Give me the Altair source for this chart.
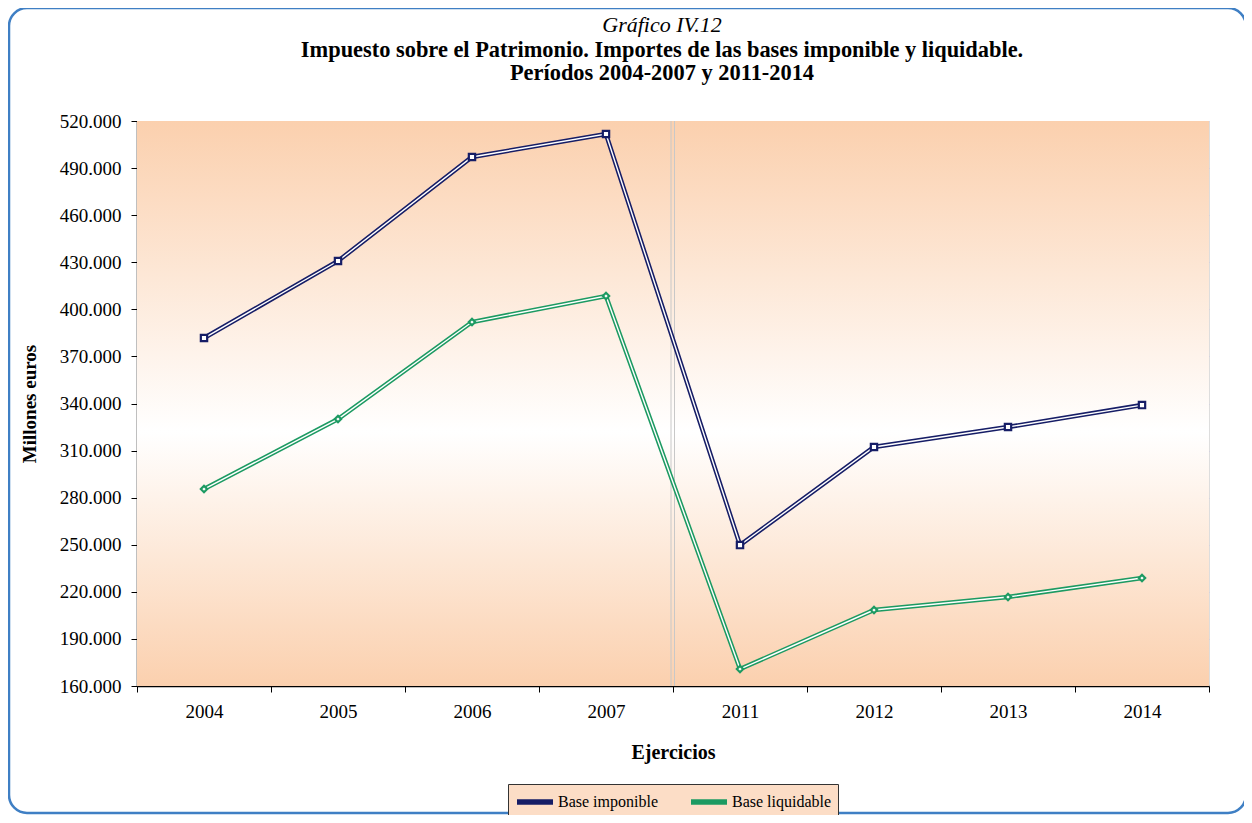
import altair as alt
import pandas as pd

years = ["2004", "2005", "2006", "2007", "2011", "2012", "2013", "2014"]
base_imponible = [381700, 430800, 497100, 511700, 249800, 312300, 325000, 339000]
base_liquidable = [285500, 330100, 391900, 408500, 170800, 208400, 216700, 228800]
series_names = ["Base imponible", "Base liquidable"]
series_colors = ["#161D66", "#1C9A62"]
series_shapes = ["square", "diamond"]
title_lines = ["Gráfico IV.12",
               "Impuesto sobre el Patrimonio. Importes de las bases imponible y liquidable.",
               "Períodos 2004-2007 y 2011-2014"]

rows = []
for y, v in zip(years, base_imponible):
    rows.append({"Ejercicio": y, "valor": v, "serie": series_names[0]})
for y, v in zip(years, base_liquidable):
    rows.append({"Ejercicio": y, "valor": v, "serie": series_names[1]})
df = pd.DataFrame(rows)

W, H = 1072, 565
FONT = "Liberation Serif"

xenc = alt.X("Ejercicio:N", sort=years, title="Ejercicios",
             scale=alt.Scale(paddingInner=0, paddingOuter=0),
             axis=alt.Axis(labelAngle=0, labelFont=FONT, labelFontSize=19, labelColor="black",
                           titleFont=FONT, titleFontSize=20, titleFontWeight="bold", titleColor="black",
                           titlePadding=21, labelPadding=10, tickBand="extent", tickSize=6,
                           tickColor="black", domainColor="black", domainWidth=1.5, grid=False))
yenc = alt.Y("valor:Q", title="Millones euros",
             scale=alt.Scale(domain=[160000, 520000], nice=False),
             axis=alt.Axis(values=list(range(160000, 520001, 30000)), format=",d",
                           labelFont=FONT, labelFontSize=19, labelColor="black",
                           titleFont=FONT, titleFontSize=19, titleFontWeight="bold", titleColor="black",
                           titlePadding=20, labelPadding=10, tickSize=6, tickColor="black",
                           domainColor="black", domainWidth=1.5,
                           grid=True, gridColor="#CBC8E4", gridWidth=1.2))
colorenc = alt.Color("serie:N", scale=alt.Scale(domain=series_names, range=series_colors),
                     legend=alt.Legend(title=None, orient="none", direction="horizontal",
                                       legendX=371, legendY=663, labelFont=FONT, labelFontSize=16,
                                       labelColor="black", symbolType="M-1,0H3", symbolStrokeWidth=5.5,
                                       symbolSize=324, fillColor="#FCDDC6", strokeColor="#333333",
                                       padding=6, columnPadding=22, labelOffset=20, labelLimit=200))

gradient = alt.LinearGradient(
    gradient="linear", x1=0, y1=0, x2=0, y2=1,
    stops=[alt.GradientStop(offset=0, color="#FBD0AE"),
           alt.GradientStop(offset=0.55, color="#FFFFFF"),
           alt.GradientStop(offset=1, color="#FBD0AE")])

one = alt.Data(values=[{}])

bg = alt.Chart(one).mark_rect(fill=gradient).encode(
    x=alt.value(0), x2=alt.value(W), y=alt.value(0), y2=alt.value(H))

frame = alt.Chart(one).mark_rect(
    fill=None, stroke="#3F7FC4", strokeWidth=2.5, cornerRadius=18).encode(
    x=alt.value(-128), x2=alt.value(1109), y=alt.value(-113), y2=alt.value(692))

sep1 = alt.Chart(one).mark_rule(color="#C8C8C8", strokeWidth=1).encode(
    x=alt.value(534), y=alt.value(0), y2=alt.value(H))
sep2 = alt.Chart(one).mark_rule(color="#C8C8C8", strokeWidth=1).encode(
    x=alt.value(537.5), y=alt.value(0), y2=alt.value(H))

t1 = alt.Chart(one).mark_text(font=FONT, fontSize=22, fontStyle="italic", color="black",
                              baseline="middle", align="center").encode(
    x=alt.value(W / 2 - 11), y=alt.value(-96), text=alt.value(title_lines[0]))
t2 = alt.Chart(one).mark_text(font=FONT, fontSize=22.4, fontWeight="bold", color="black",
                              baseline="middle", align="center").encode(
    x=alt.value(W / 2 - 11), y=alt.value(-71), text=alt.value(title_lines[1]))
t3 = alt.Chart(one).mark_text(font=FONT, fontSize=22.4, fontWeight="bold", color="black",
                              baseline="middle", align="center").encode(
    x=alt.value(W / 2 - 11), y=alt.value(-48), text=alt.value(title_lines[2]))

base = alt.Chart(df)
outer = base.mark_line(strokeWidth=4.5).encode(x=xenc, y=yenc, color=colorenc, detail="serie:N")
inner = base.mark_line(strokeWidth=1.4, color="white").encode(x=xenc, y=yenc, detail="serie:N")

pt_layers = []
for name, col, shp in zip(series_names, series_colors, series_shapes):
    pt_layers.append(
        base.transform_filter(alt.datum.serie == name).mark_point(
            filled=False, fill="white", stroke=col, shape=shp, strokeWidth=2.2, size=40, opacity=1
        ).encode(x=xenc, y=yenc))

chart = alt.layer(frame, bg, sep1, sep2, outer, inner, *pt_layers, t1, t2, t3).properties(
    width=W, height=H,
    autosize=alt.AutoSizeParams(type="none"),
    padding={"left": 129, "top": 113, "right": 35, "bottom": 129},
).configure_view(stroke="black", strokeWidth=1.5).configure(
    locale={"number": {"decimal": ",", "thousands": ".", "grouping": [3], "currency": ["", " €"]}}
)

chart.save("out.html", embed_options={"renderer": "svg", "actions": False})
